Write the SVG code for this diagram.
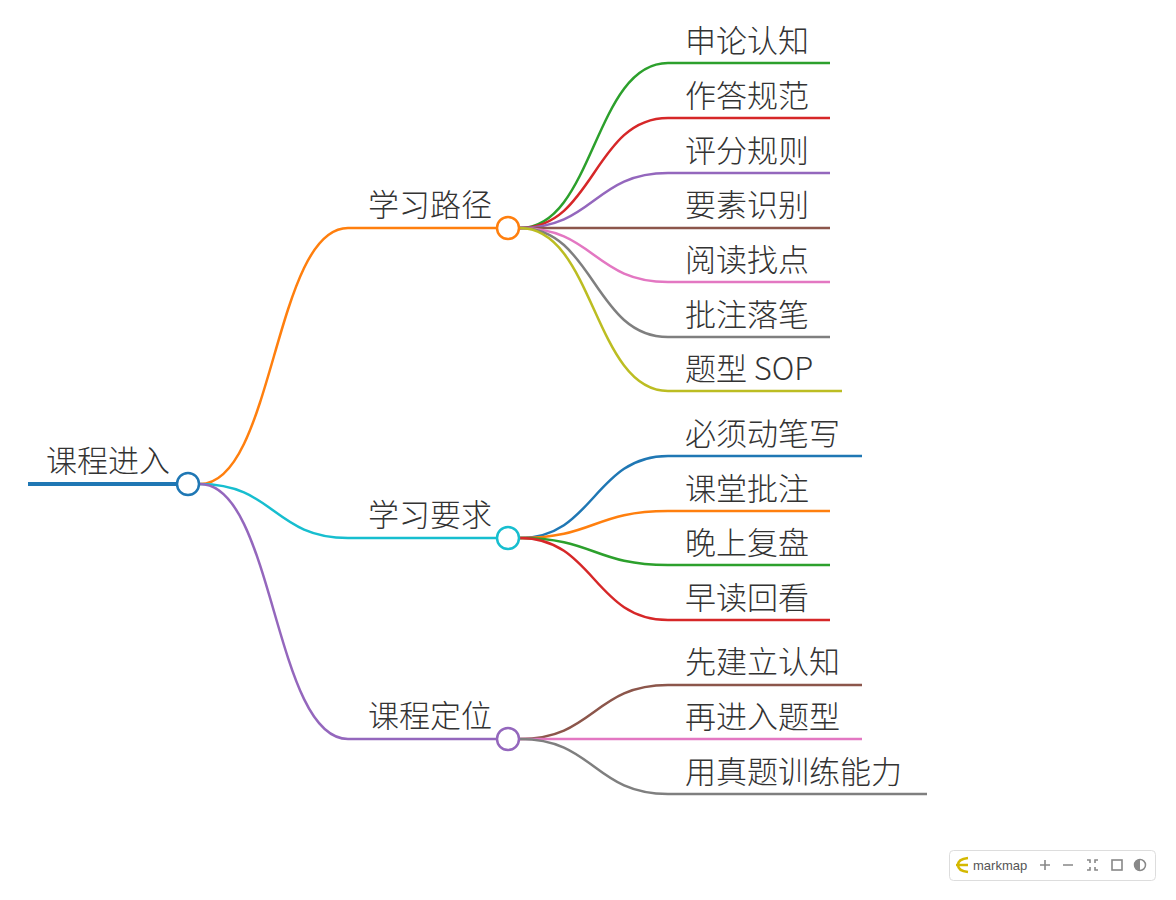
<svg xmlns="http://www.w3.org/2000/svg" width="1176" height="900" viewBox="0 0 1176 900">
<style>
text{font-family:"Noto Sans CJK SC","Liberation Sans",sans-serif;font-size:31px;font-weight:300;fill:#333}
.l{fill:none;stroke-width:2.5}
.c{fill:#fff;stroke-width:2.5}
.tb{font-family:"Liberation Sans",sans-serif;font-size:13px;font-weight:400;fill:#555}
</style>
<rect width="1176" height="900" fill="#fff"/>
<g id="connectors">
<path class="l" stroke="#ff7f0e" d="M200,484 C274,484 274,228 348,228 H508"/>
<path class="l" stroke="#17becf" d="M200,484 C274,484 274,538 348,538 H508"/>
<path class="l" stroke="#9467bd" d="M200,484 C274,484 274,739 348,739 H508"/>
<path class="l" stroke="#2ca02c" d="M520,228 C594,228 594,63 668,63 H830"/>
<path class="l" stroke="#d62728" d="M520,228 C594,228 594,118 668,118 H830"/>
<path class="l" stroke="#9467bd" d="M520,228 C594,228 594,173 668,173 H830"/>
<path class="l" stroke="#8c564b" d="M520,228 C594,228 594,228 668,228 H830"/>
<path class="l" stroke="#e377c2" d="M520,228 C594,228 594,282 668,282 H830"/>
<path class="l" stroke="#7f7f7f" d="M520,228 C594,228 594,337 668,337 H830"/>
<path class="l" stroke="#bcbd22" d="M520,228 C594,228 594,391 668,391 H842"/>
<path class="l" stroke="#1f77b4" d="M520,538 C594,538 594,456 668,456 H862"/>
<path class="l" stroke="#ff7f0e" d="M520,538 C594,538 594,511 668,511 H830"/>
<path class="l" stroke="#2ca02c" d="M520,538 C594,538 594,565 668,565 H830"/>
<path class="l" stroke="#d62728" d="M520,538 C594,538 594,620 668,620 H830"/>
<path class="l" stroke="#8c564b" d="M520,739 C594,739 594,685 668,685 H862"/>
<path class="l" stroke="#e377c2" d="M520,739 C594,739 594,739 668,739 H862"/>
<path class="l" stroke="#7f7f7f" d="M520,739 C594,739 594,794 668,794 H927"/>
</g>
<g id="root"><line x1="28" y1="484" x2="188" y2="484" stroke="#1f77b4" stroke-width="4"/><circle class="c" cx="188" cy="484" r="11" stroke="#1f77b4" stroke-width="3"/><text x="46" y="472">课程进入</text></g>
<g id="n1"><circle class="c" cx="508" cy="228" r="11" stroke="#ff7f0e"/><text x="492" y="216" text-anchor="end">学习路径</text></g>
<g id="n2"><circle class="c" cx="508" cy="538" r="11" stroke="#17becf"/><text x="492" y="526" text-anchor="end">学习要求</text></g>
<g id="n3"><circle class="c" cx="508" cy="739" r="11" stroke="#9467bd"/><text x="492" y="727" text-anchor="end">课程定位</text></g>
<g id="leaves">
<text x="685" y="52">申论认知</text>
<text x="685" y="107">作答规范</text>
<text x="685" y="162">评分规则</text>
<text x="685" y="216">要素识别</text>
<text x="685" y="271">阅读找点</text>
<text x="685" y="326">批注落笔</text>
<text x="685" y="380">题型 SOP</text>
<text x="685" y="445">必须动笔写</text>
<text x="685" y="500">课堂批注</text>
<text x="685" y="554">晚上复盘</text>
<text x="685" y="609">早读回看</text>
<text x="685" y="673">先建立认知</text>
<text x="685" y="728">再进入题型</text>
<text x="685" y="783">用真题训练能力</text>
</g>
<g id="toolbar">
<rect x="949.500" y="850.500" width="206" height="30" rx="4" fill="#fff" stroke="#ddd"/>
<path d="M968,858 Q958,859 958,865 Q958,871 968,872 M956,865 H968" fill="none" stroke="#d4b800" stroke-width="2.5"/>
<text class="tb" x="973" y="870">markmap</text>
<path d="M1040,865 h10 M1045,860 v10 M1063,865 h10" stroke="#888" stroke-width="1.6"/>
<path d="M1087,860 h3 v3 M1098,860 h-3 v3 M1087,870 h3 v-3 M1098,870 h-3 v-3" fill="none" stroke="#888" stroke-width="1.6"/>
<rect x="1112" y="860" width="10" height="10" fill="none" stroke="#888" stroke-width="1.6"/>
<circle cx="1140" cy="865" r="5.500" fill="#fff" stroke="#888" stroke-width="1.5"/>
<path d="M1140,859.500 A5.500,5.500 0 0 0 1140,870.500 Z" fill="#888"/>
</g>
</svg>
